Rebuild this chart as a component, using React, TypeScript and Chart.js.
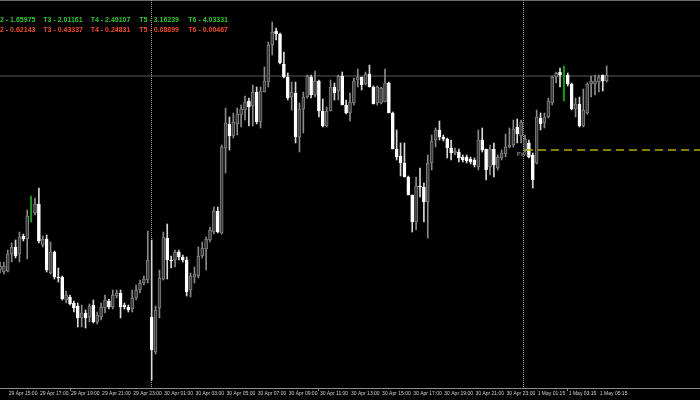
import { useEffect, useRef } from "react";
import { Chart, registerables } from "chart.js";

Chart.register(...registerables);

// ---- data (price units, arbitrary base) ----
const candleSlots = 181;

const opens = [
  130, 128, 129, 146, 153, 146, 164, 161, null, 187,
  196, 155, 161, 127, 148, 123, 123, 100, 103, 97,
  94, 82, 87, 83, 95, 78, 83, 92, 99, 93,
  104, 107, 95, 93, 91, 102, 110, 117, 120, 83,
  48, 92, 121, 162, 140, 140, 148, 143, 140, 110,
  123, 124, 144, 151, 160, 168, 189, 167, 252, 276,
  264, 276, 285, 290, 299, 294, 308, 278, 308, 318,
  355, 369, 366, 336, 323, 303, 307, 263, 291, 303,
  323, 305, 319, 289, 274, 289, 313, 309, 324, 295,
  287, 297, 320, 323, 316, 326, 313, 297, 297, 298,
  317, 287, 251, 244, 237, 223, 205, 178, 214, 213,
  198, 237, 260, 270, 263, 261, 252, 247, 248, 243,
  243, 241, 240, 233, 260, 251, 233, 251, 232, 242,
  246, 253, 255, 273, 264, 250, 257, 245, 237, 282,
  277, 283, 297, 323, 328, null, 325, 316, 291, 296,
  274, 287, 316, 316, 318, 325, 319,
];
const highs = [
  138, 138, 150, 157, 160, 168, 166, 190, null, 202,
  212, 164, 165, 158, 149, 132, 124, 109, 105, 99,
  97, 95, 90, 96, 100, 88, 97, 105, 101, 110,
  110, 110, 97, 95, 110, 115, 120, 124, 169, 160,
  94, 130, 168, 176, 144, 150, 150, 145, 143, 127,
  133, 153, 158, 163, 173, 193, 193, 255, 292, 283,
  287, 292, 295, 304, 302, 315, 313, 313, 333, 358,
  378, 372, 367, 348, 327, 318, 318, 297, 308, 325,
  325, 329, 320, 301, 293, 320, 317, 325, 328, 300,
  307, 322, 331, 323, 328, 335, 314, 314, 313, 331,
  318, 288, 270, 257, 257, 224, 205, 223, 232, 217,
  245, 265, 272, 279, 265, 262, 260, 252, 251, 245,
  245, 243, 242, 270, 272, 251, 255, 257, 245, 250,
  266, 272, 280, 281, 280, 265, 260, 247, 290, 287,
  287, 302, 324, 328, 332, null, 327, 317, 302, 303,
  311, 317, 324, 325, 325, 325, 334,
];
const lows = [
  127, 126, 128, 138, 142, 138, 159, 141, null, 185,
  157, 153, 128, 126, 121, 118, 100, 97, 95, 88,
  73, 73, 72, 78, 77, 76, 80, 87, 91, 91,
  102, 82, 91, 88, 88, 100, 107, 115, 117, 20,
  46, 82, 120, 121, 132, 133, 140, 138, 104, 103,
  117, 122, 142, 130, 158, 166, 167, 166, 227, 250,
  262, 265, 273, 280, 274, 274, 276, 272, 308, 313,
  345, 360, 336, 322, 300, 290, 257, 248, 267, 302,
  302, 303, 283, 273, 273, 289, 300, 300, 295, 286,
  279, 295, 313, 310, 315, 313, 296, 295, 296, 298,
  287, 251, 240, 224, 223, 205, 168, 170, 203, 178,
  162, 230, 253, 260, 259, 242, 240, 245, 238, 238,
  237, 236, 233, 230, 248, 220, 225, 223, 230, 240,
  243, 252, 253, 257, 257, 248, 242, 212, 236, 270,
  272, 282, 295, 317, 313, null, 314, 290, 283, 273,
  273, 286, 303, 305, 308, 309, 318,
];
const closes = [
  134, 134, 146, 153, 144, 163, 161, 184, null, 196,
  159, 161, 130, 148, 123, 122, 101, 105, 96, 92,
  82, 87, 82, 94, 78, 85, 93, 100, 93, 105,
  107, 93, 93, 90, 102, 110, 117, 121, 140, 50,
  90, 122, 163, 140, 139, 148, 143, 140, 108, 124,
  126, 144, 152, 161, 170, 189, 168, 253, 277, 264,
  278, 286, 291, 298, 293, 308, 278, 309, 319, 355,
  368, 366, 337, 323, 302, 308, 263, 291, 303, 324,
  305, 319, 289, 274, 289, 313, 307, 324, 295, 287,
  298, 319, 323, 315, 326, 313, 296, 313, 312, 317,
  287, 251, 243, 237, 223, 205, 178, 214, 213, 198,
  237, 259, 270, 263, 261, 252, 247, 249, 242, 240,
  239, 238, 235, 260, 250, 230, 251, 235, 243, 247,
  253, 255, 271, 266, 278, 261, 243, 220, 283, 276,
  283, 299, 323, 327, 325, null, 316, 291, 296, 274,
  290, 316, 319, 319, 323, 319, 325,
];

// signal bars (green)
const signalIndex = [8, 145];
const signalLow = [178, 299];
const signalHigh = [204, 334];

// horizontal levels
const upperLevel = 324;
const dashedLevel = 250;
const dashedFrom = 135;

// day separators (slot positions)
const sessionBreaks = [38.8, 134.4];

// time axis labels
const tickLabels = [
  "29 Apr 15:00", "29 Apr 17:00", "29 Apr 19:00", "29 Apr 21:00", "29 Apr 23:00",
  "30 Apr 01:00", "30 Apr 03:00", "30 Apr 05:00", "30 Apr 07:00", "30 Apr 09:00",
  "30 Apr 11:00", "30 Apr 13:00", "30 Apr 15:00", "30 Apr 17:00", "30 Apr 19:00",
  "30 Apr 21:00", "30 Apr 23:00", "1 May 01:15", "1 May 03:15", "1 May 05:15",
];
const firstTickSlot = 2;
const tickEvery = 8;

// indicator texts
const upperTexts = ["T2 - 1.65975", "T3 - 2.01161", "T4 - 2.49107", "T5 - 3.16239", "T6 - 4.03331"];
const lowerTexts = ["T2 - 0.62143", "T3 - 0.43337", "T4 - 0.24831", "T5 - 0.08899", "T6 - 0.00467"];
const levelTag = "PWL";

export default function App() {
  const ref = useRef<HTMLCanvasElement | null>(null);

  useEffect(() => {
    const canvas = ref.current;
    if (!canvas) return;

    const slots = Array.from({ length: candleSlots }, (_, i) => i);
    const tickMap: Record<number, string> = {};
    tickLabels.forEach((t, k) => {
      tickMap[firstTickSlot + k * tickEvery] = t;
    });

    const isBull = (i: number) => closes[i] != null && (closes[i] as number) >= (opens[i] as number);

    const wickData = slots.map((i) => (highs[i] == null ? null : [lows[i], highs[i]]));
    const bodyData = slots.map((i) => (opens[i] == null ? null : [opens[i], closes[i]]));
    const signalData = slots.map((i) => {
      const k = signalIndex.indexOf(i);
      return k < 0 ? null : [signalLow[k], signalHigh[k]];
    });
    const upperLine = slots.map(() => upperLevel);
    const dashedLine = slots.map((i) => (i >= dashedFrom ? dashedLevel : null));

    const overlay = {
      id: "overlay",
      beforeDraw(chart: any) {
        const c = chart.ctx;
        c.save();
        c.fillStyle = "#000000";
        c.fillRect(0, 0, chart.width, chart.height);
        c.restore();
      },
      beforeDatasetsDraw(chart: any) {
        const c = chart.ctx;
        const area = chart.chartArea;
        const xs = chart.scales.x;
        c.save();
        c.fillStyle = "#6a6a6a";
        c.fillRect(0, 0, chart.width, 1);
        c.fillStyle = "#a8a8a8";
        sessionBreaks.forEach((b) => {
          const x = Math.round(xs.getPixelForValue(b));
          for (let y = Math.floor(area.top); y < area.bottom; y += 2) {
            c.fillRect(x, y, 1, 1);
          }
        });
        c.restore();
      },
      afterDraw(chart: any) {
        const c = chart.ctx;
        c.save();
        c.font = 'bold 7px "Liberation Sans", Arial, sans-serif';
        c.textBaseline = "middle";
        c.textAlign = "left";
        const tW = c.measureText("T").width;
        const xs = [-tW, 43.3, 90.7, 139.3, 188.3];
        c.fillStyle = "#33c433";
        upperTexts.forEach((t, k) => c.fillText(t, xs[k], 20.5));
        c.fillStyle = "#ee4a2a";
        lowerTexts.forEach((t, k) => c.fillText(t, xs[k], 30.5));
        c.font = '6px "Liberation Sans", Arial, sans-serif';
        c.fillStyle = "#9c9c9c";
        c.fillText(levelTag, 516.5, 154.5);
        c.restore();
      },
    };

    const chart = new Chart(canvas, {
      type: "bar",
      data: {
        labels: slots,
        datasets: [
          {
            type: "line",
            data: dashedLine as any,
            borderColor: "#b4a800",
            borderWidth: 1.3,
            borderDash: [8, 5],
            pointRadius: 0,
            order: 0,
          } as any,
          {
            type: "line",
            data: upperLine,
            borderColor: "#5c5c5c",
            borderWidth: 1,
            pointRadius: 0,
            order: 5,
          } as any,
          {
            data: signalData as any,
            backgroundColor: "#1c9a1c",
            barThickness: 1.3,
            grouped: false,
            order: 1,
          } as any,
          {
            data: bodyData as any,
            backgroundColor: slots.map((i) => (isBull(i) ? "#3a3a3a" : "#ffffff")),
            borderColor: slots.map((i) => (isBull(i) ? "#808080" : "#ffffff")),
            borderWidth: 1,
            borderSkipped: false,
            barThickness: 3,
            minBarLength: 1,
            grouped: false,
            order: 2,
          } as any,
          {
            data: wickData as any,
            backgroundColor: slots.map((i) => (isBull(i) ? "#8a8a8a" : "#d8d8d8")),
            barThickness: 1,
            grouped: false,
            order: 3,
          } as any,
        ],
      },
      options: {
        animation: false,
        responsive: false,
        events: [],
        layout: { padding: 0 },
        plugins: { legend: { display: false }, tooltip: { enabled: false } },
        scales: {
          x: {
            type: "category",
            offset: false,
            grid: {
              offset: false,
              drawOnChartArea: false,
              drawTicks: true,
              tickLength: 3,
              color: (ctx: any) => (tickMap[ctx.index] ? "#8a8a8a" : "rgba(0,0,0,0)"),
            },
            border: { display: true, color: "#8a8a8a", width: 1 },
            ticks: {
              autoSkip: false,
              maxRotation: 0,
              minRotation: 0,
              align: "start",
              padding: 0,
              labelOffset: 1,
              color: "#d0d0d0",
              font: { family: '"Liberation Sans", Arial, sans-serif', size: 5 },
              callback: (_v: any, index: number) => (tickMap[index] ? tickMap[index] : null),
            },
            afterFit: (scale: any) => {
              scale.height = 12;
              scale.paddingLeft = 0;
              scale.paddingRight = 0;
            },
          },
          y: {
            display: false,
            min: 12,
            max: 400,
          },
        },
      } as any,
      plugins: [overlay],
    });

    return () => chart.destroy();
  }, []);

  return (
    <div style={{ position: "fixed", left: 0, top: 0, width: 700, height: 400, background: "#000" }}>
      <canvas ref={ref} width={700} height={400} style={{ display: "block" }} />
    </div>
  );
}
